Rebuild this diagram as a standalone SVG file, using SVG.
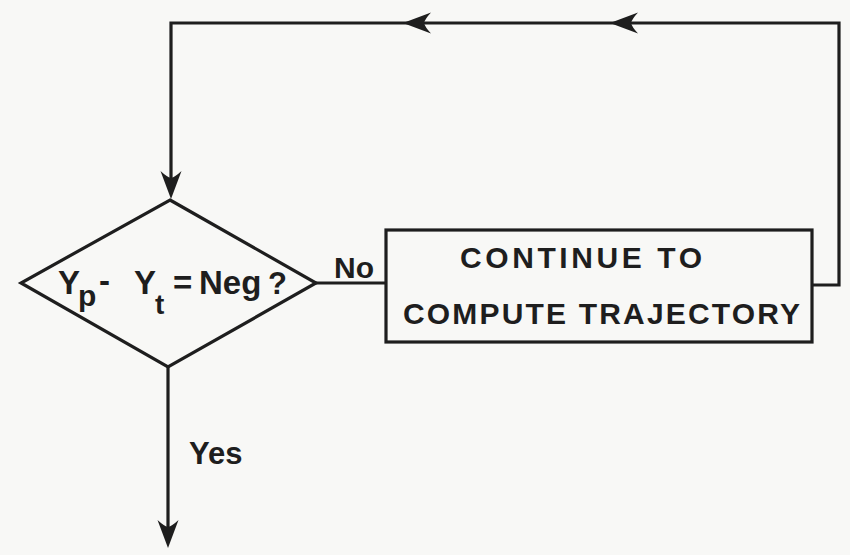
<svg xmlns="http://www.w3.org/2000/svg" xmlns:xlink="http://www.w3.org/1999/xlink" width="850" height="555" viewBox="0 0 850 555">
  <style>
    .ln { fill: none; stroke: #1e1e1e; stroke-width: 3.2; stroke-linejoin: miter; }
    .head { fill: #1e1e1e; stroke: none; }
    .lbl { font-family: "Liberation Sans", Arial, sans-serif; font-weight: bold; fill: #1e1e1e; }
  </style>
  <defs>
    <!-- arrowhead, tip at origin, pointing to +x -->
    <path id="arrow" d="M0,0 L-28,-10.5 Q-22,-4 -21,0 Q-22,4 -28,10.5 Z"/>
  </defs>

  <rect width="850" height="555" fill="#f8f8f6"/>

  <g id="connectors">
    <!-- feedback loop from process box back to the decision -->
    <polyline class="ln" points="812,285 839,285 839,23 171,23 171,190"/>
    <use href="#arrow" class="head" transform="translate(403,23) rotate(180)"/>
    <use href="#arrow" class="head" transform="translate(610,23) rotate(180)"/>
    <use href="#arrow" class="head" transform="translate(171,199) rotate(90)"/>
    <!-- No branch -->
    <line class="ln" x1="316" y1="283" x2="386" y2="283"/>
    <text class="lbl" x="334" y="278" font-size="30">No</text>
    <!-- Yes branch -->
    <line class="ln" x1="168" y1="367" x2="168" y2="538"/>
    <use href="#arrow" class="head" transform="translate(168,548) rotate(90)"/>
    <text class="lbl" x="189" y="464" font-size="31">Yes</text>
  </g>

  <g id="decision">
    <polygon class="ln" points="170,200 316,283 168,367 21,283"/>
    <text class="lbl" font-size="33">
      <tspan x="58" y="294">Y</tspan><tspan x="78" y="306" font-size="30">p</tspan><tspan x="99" y="292">-</tspan><tspan x="134" y="294">Y</tspan><tspan x="155" y="314" font-size="28">t</tspan><tspan x="173" y="294">=</tspan><tspan x="199" y="294">Neg</tspan><tspan x="268" y="294" font-size="31">?</tspan>
    </text>
  </g>

  <g id="process">
    <rect class="ln" x="386" y="230" width="426" height="112"/>
    <text class="lbl" x="460" y="268" font-size="30" textLength="242" lengthAdjust="spacing">CONTINUE TO</text>
    <text class="lbl" x="403" y="324" font-size="30" textLength="397" lengthAdjust="spacing">COMPUTE TRAJECTORY</text>
  </g>
</svg>
